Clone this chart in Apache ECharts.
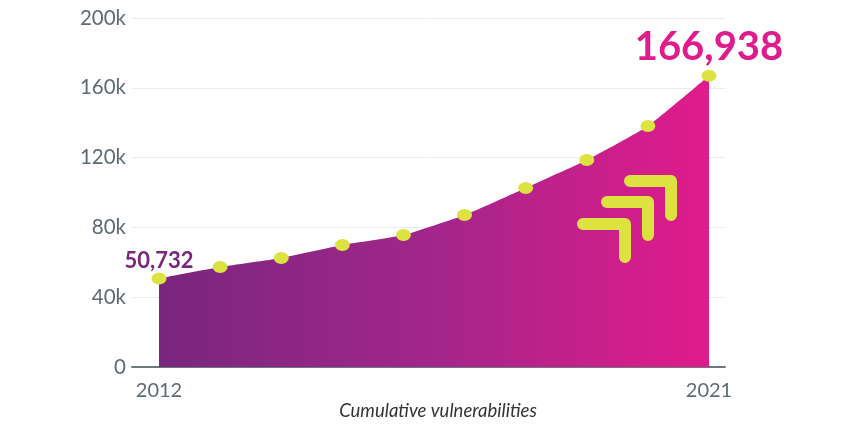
<!DOCTYPE html>
<html>
<head>
<meta charset="utf-8">
<script src="https://cdn.jsdelivr.net/npm/echarts@6/dist/echarts.min.js"></script>
<style>
html,body{margin:0;padding:0;background:#fff;}
#chart{width:850px;height:430px;}
</style>
</head>
<body>
<div id="chart"></div>
<script>
// ---- data ----
var years = [2012, 2013, 2014, 2015, 2016, 2017, 2018, 2019, 2020, 2021];
var values = [50732, 57300, 62500, 69900, 75600, 87100, 102600, 118600, 138100, 166938];
var yTickValues = [0, 40000, 80000, 120000, 160000, 200000];
var yTickLabels = ['0', '40k', '80k', '120k', '160k', '200k'];
var xLabelYears = [2012, 2021];
var axisTitle = 'Cumulative vulnerabilities';

var chart = echarts.init(document.getElementById('chart'), null, {renderer: 'canvas'});

var lime = '#dce341';
var data = years.map(function (y, i) {
  var item = {value: [y, values[i]]};
  if (i === 0) {
    item.label = {show: true, position: 'top', distance: 1, color: '#79267f',
      fontSize: 22, fontWeight: 'bold', fontFamily: 'Lato, sans-serif'};
  } else if (i === years.length - 1) {
    item.label = {show: true, position: 'top', distance: 3, color: '#e01b8b',
      fontSize: 40, fontWeight: 'bold', fontFamily: 'Lato, sans-serif'};
  }
  return item;
});

function arrow(x, y, w, h) {
  return {
    type: 'polyline', silent: true, z: 10,
    shape: {points: [[x, y], [x + w, y], [x + w, y + h]]},
    style: {stroke: lime, lineWidth: 12, fill: null, lineCap: 'round', lineJoin: 'round'}
  };
}

var option = {
  animation: false,
  backgroundColor: '#fff',
  title: {
    text: axisTitle, left: 433, top: 397, textAlign: 'center',
    textStyle: {fontStyle: 'italic', fontWeight: 'normal', fontSize: 18.5, color: '#333',
      fontFamily: 'Lato, sans-serif'}
  },
  grid: {left: 132, right: 125, top: 18, bottom: 63, containLabel: false},
  xAxis: {
    type: 'value', min: 2011.558, max: 2021.262,
    axisLine: {show: true, lineStyle: {color: '#6c777e', width: 2}},
    axisTick: {show: false},
    splitLine: {show: false},
    axisLabel: {customValues: xLabelYears, color: '#5f6b73', fontSize: 20, margin: 14,
      fontFamily: 'Lato, sans-serif', formatter: function (v) { return String(v); }}
  },
  yAxis: {
    type: 'value', min: 0, max: 200000, interval: 40000,
    axisLine: {show: false}, axisTick: {show: false},
    splitLine: {lineStyle: {color: '#ebebeb', width: 1}},
    axisLabel: {color: '#5f6b73', fontSize: 20.5, margin: 6, fontFamily: 'Lato, sans-serif',
      formatter: function (v) { var k = yTickValues.indexOf(v); return k >= 0 ? yTickLabels[k] : ''; }}
  },
  series: [{
    type: 'line', data: data, smooth: 0.15,
    symbol: 'circle', symbolSize: [15, 12],
    itemStyle: {color: lime},
    lineStyle: {width: 0},
    label: {show: false, formatter: function (p) { return p.value[1].toLocaleString('en-US'); }},
    areaStyle: {
      opacity: 1,
      color: new echarts.graphic.LinearGradient(0, 0, 1, 0, [
        {offset: 0, color: '#79267f'},
        {offset: 0.5, color: '#a3268a'},
        {offset: 1, color: '#e11b8b'}
      ])
    },
    z: 3
  }],
  graphic: [
    arrow(583, 224, 42, 33),
    arrow(607, 202, 41, 33),
    arrow(630, 181, 41, 34)
  ]
};
chart.setOption(option);
</script>
</body>
</html>
